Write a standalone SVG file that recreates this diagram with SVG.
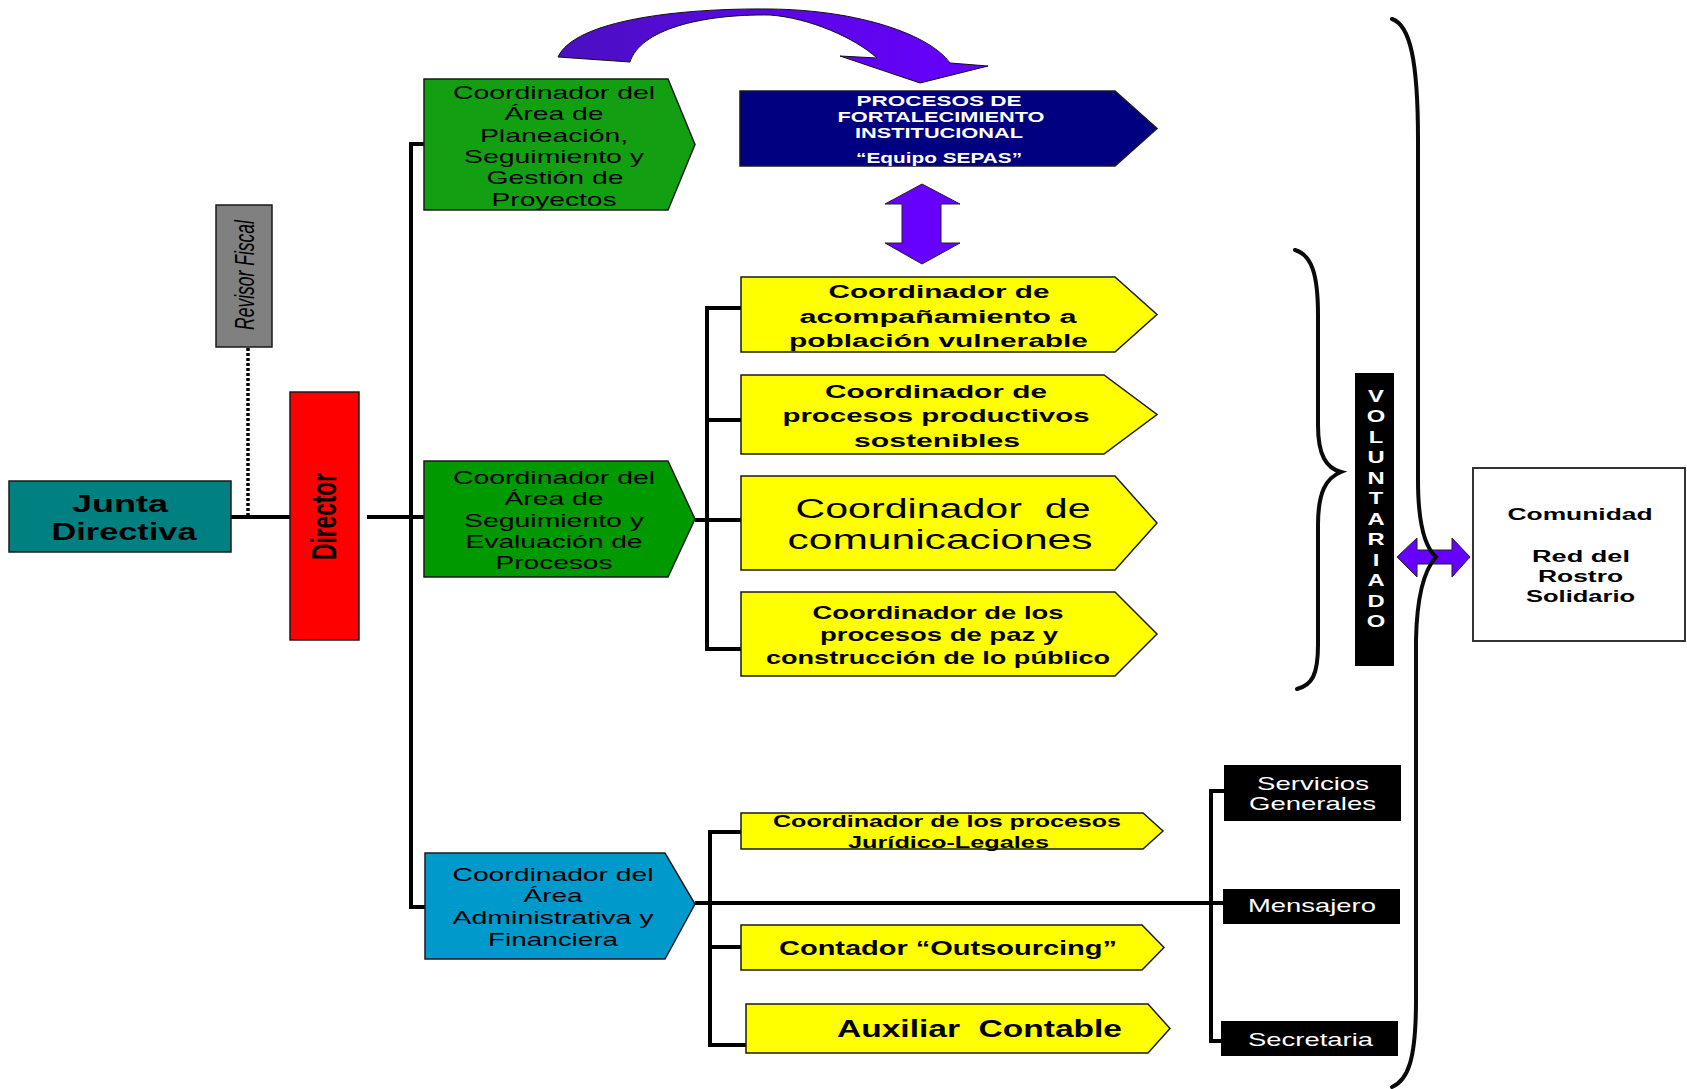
<svg xmlns="http://www.w3.org/2000/svg" width="1687" height="1089" viewBox="0 0 1687 1089">
<defs>
<style>
.t{font-family:"Liberation Sans",Arial,sans-serif;text-anchor:middle;fill:#000}
.b{font-weight:bold}
.w{fill:#fff}
.box{stroke:#1a1a1a;stroke-width:1.5}
.ln{stroke:#000;stroke-width:4;fill:none}
.brace{stroke:#0a0a0a;stroke-width:4;fill:none;stroke-linecap:round}
.pur{fill:#6600ff;stroke:#222;stroke-width:1}
</style>
<linearGradient id="gArc" x1="0" y1="0" x2="1" y2="0">
<stop offset="0" stop-color="#4a10c0"/>
<stop offset="0.45" stop-color="#5a08e0"/>
<stop offset="1" stop-color="#6600ff"/>
</linearGradient>
</defs>
<rect width="1687" height="1089" fill="#fff"/>

<g id="connectors">
<path class="ln" d="M231,517 H290"/>
<path d="M248,348 V515" stroke="#000" stroke-width="3.5" stroke-dasharray="3,2" fill="none"/>
<path class="ln" d="M367,517 H424"/>
<path class="ln" d="M424,144 H411 V907 H425"/>
<path class="ln" d="M741,308 H707 V649 H741"/>
<path class="ln" d="M707,420 H741"/>
<path class="ln" d="M695,520 H741"/>
<path class="ln" d="M741,832 H710 V1045 H746"/>
<path class="ln" d="M710,947 H741"/>
<path class="ln" d="M695,903 H1223"/>
<path class="ln" d="M1224,791 H1211 V1041 H1221"/>
</g>

<g id="arc-arrow">
<path d="M558,57 C575,20 680,8 770,9 C860,10 930,35 950,63 L988,66 L920,83 L840,56 L877,58 C855,38 810,18 770,15 C700,14 640,30 630,62 Z" fill="url(#gArc)" stroke="#111" stroke-width="1"/>
</g>

<g id="junta">
<rect class="box" x="9" y="481" width="222" height="71" fill="#008080"/>
<text class="t b" transform="translate(120,0) scale(1.5,1)" y="512" font-size="23.5" textLength="64" lengthAdjust="spacingAndGlyphs">Junta</text>
<text class="t b" transform="translate(124,0) scale(1.5,1)" y="540" font-size="23.5" textLength="96.7" lengthAdjust="spacingAndGlyphs">Directiva</text>
</g>

<g id="revisor">
<rect class="box" x="216" y="205" width="56" height="142" fill="#808080"/>
<text class="t" font-style="italic" transform="translate(244,275) scale(1.6,1) rotate(-90)" y="6.3" font-size="17.5" textLength="110" lengthAdjust="spacingAndGlyphs">Revisor Fiscal</text>
</g>

<g id="director">
<rect class="box" x="290" y="392" width="69" height="248" fill="#ff0000"/>
<text class="t b" transform="translate(323,516.5) scale(1.55,1) rotate(-90)" y="8.2" font-size="23" textLength="87" lengthAdjust="spacingAndGlyphs">Director</text>
</g>

<g id="coord-planeacion">
<path class="box" d="M424,79 H668 L695,144.5 L668,210 H424 Z" fill="#12a012"/>
<g class="t" font-size="18">
<text transform="translate(554,0) scale(1.5,1)" y="99" textLength="134.7" lengthAdjust="spacingAndGlyphs">Coordinador del</text>
<text transform="translate(554,0) scale(1.5,1)" y="120.5" textLength="66" lengthAdjust="spacingAndGlyphs">Área de</text>
<text transform="translate(554,0) scale(1.5,1)" y="142" textLength="98.7" lengthAdjust="spacingAndGlyphs">Planeación,</text>
<text transform="translate(554,0) scale(1.5,1)" y="163" textLength="120" lengthAdjust="spacingAndGlyphs">Seguimiento y</text>
<text transform="translate(555,0) scale(1.5,1)" y="184.5" textLength="91.3" lengthAdjust="spacingAndGlyphs">Gestión de</text>
<text transform="translate(554,0) scale(1.5,1)" y="206" textLength="83.3" lengthAdjust="spacingAndGlyphs">Proyectos</text>
</g>
</g>

<g id="coord-seguimiento">
<path class="box" d="M424,461 H668 L695,519 L668,577 H424 Z" fill="#009a00"/>
<g class="t" font-size="18">
<text transform="translate(554,0) scale(1.5,1)" y="484" textLength="134.7" lengthAdjust="spacingAndGlyphs">Coordinador del</text>
<text transform="translate(554,0) scale(1.5,1)" y="505.5" textLength="66" lengthAdjust="spacingAndGlyphs">Área de</text>
<text transform="translate(554,0) scale(1.5,1)" y="527" textLength="120" lengthAdjust="spacingAndGlyphs">Seguimiento y</text>
<text transform="translate(554,0) scale(1.5,1)" y="548" textLength="118" lengthAdjust="spacingAndGlyphs">Evaluación de</text>
<text transform="translate(554,0) scale(1.5,1)" y="569" textLength="78" lengthAdjust="spacingAndGlyphs">Procesos</text>
</g>
</g>

<g id="coord-administrativa">
<path class="box" d="M425,853 H665 L695,904 L665,959 H425 Z" fill="#0099cc"/>
<g class="t" font-size="18">
<text transform="translate(553,0) scale(1.5,1)" y="881" textLength="134" lengthAdjust="spacingAndGlyphs">Coordinador del</text>
<text transform="translate(553,0) scale(1.5,1)" y="902.5" textLength="39.3" lengthAdjust="spacingAndGlyphs">Área</text>
<text transform="translate(553,0) scale(1.5,1)" y="924" textLength="134" lengthAdjust="spacingAndGlyphs">Administrativa y</text>
<text transform="translate(553,0) scale(1.5,1)" y="946" textLength="86.7" lengthAdjust="spacingAndGlyphs">Financiera</text>
</g>
</g>

<g id="procesos-fortalecimiento">
<path class="box" d="M740,91 H1115 L1157,128.5 L1115,166 H740 Z" fill="#000080"/>
<g class="t b" font-size="14.5">
<text class="w" transform="translate(939,0) scale(1.5,1)" y="106" textLength="110" lengthAdjust="spacingAndGlyphs">PROCESOS DE</text>
<text class="w" transform="translate(941,0) scale(1.5,1)" y="122" textLength="138" lengthAdjust="spacingAndGlyphs">FORTALECIMIENTO</text>
<text class="w" transform="translate(939,0) scale(1.5,1)" y="138" textLength="112" lengthAdjust="spacingAndGlyphs">INSTITUCIONAL</text>
<text class="w" transform="translate(939,0) scale(1.5,1)" y="163" textLength="110.7" lengthAdjust="spacingAndGlyphs">“Equipo SEPAS”</text>
</g>
</g>

<g id="double-arrow-v">
<polygon class="pur" points="922,184 960,204 941,204 941,243 960,243 922,264 885,243 902,243 902,204 885,204"/>
</g>

<g id="coord-acompanamiento">
<path class="box" d="M741,277 H1115 L1157,314.5 L1115,352 H741 Z" fill="#ffff00"/>
<g class="t b" font-size="18.5">
<text transform="translate(939,0) scale(1.5,1)" y="298" textLength="147.3" lengthAdjust="spacingAndGlyphs">Coordinador de</text>
<text transform="translate(938,0) scale(1.5,1)" y="323" textLength="184.7" lengthAdjust="spacingAndGlyphs">acompañamiento a</text>
<text transform="translate(938.5,0) scale(1.5,1)" y="347" textLength="199.3" lengthAdjust="spacingAndGlyphs">población vulnerable</text>
</g>
</g>

<g id="coord-productivos">
<path class="box" d="M741,375 H1104 L1157,414.5 L1104,454 H741 Z" fill="#ffff00"/>
<g class="t b" font-size="18.5">
<text transform="translate(936,0) scale(1.5,1)" y="398" textLength="148" lengthAdjust="spacingAndGlyphs">Coordinador de</text>
<text transform="translate(936,0) scale(1.5,1)" y="422" textLength="204.7" lengthAdjust="spacingAndGlyphs">procesos productivos</text>
<text transform="translate(937,0) scale(1.5,1)" y="447" textLength="110.7" lengthAdjust="spacingAndGlyphs">sostenibles</text>
</g>
</g>

<g id="coord-comunicaciones">
<path class="box" d="M741,476 H1115 L1157,523 L1115,570 H741 Z" fill="#ffff00"/>
<g class="t" font-size="27">
<text transform="translate(943,0) scale(1.5,1)" y="518" textLength="196.7" lengthAdjust="spacingAndGlyphs" xml:space="preserve">Coordinador  de</text>
<text transform="translate(940,0) scale(1.5,1)" y="549" textLength="203.3" lengthAdjust="spacingAndGlyphs">comunicaciones</text>
</g>
</g>

<g id="coord-paz">
<path class="box" d="M741,592 H1115 L1157,634 L1115,676 H741 Z" fill="#ffff00"/>
<g class="t b" font-size="18">
<text transform="translate(938,0) scale(1.5,1)" y="619" textLength="167.3" lengthAdjust="spacingAndGlyphs">Coordinador de los</text>
<text transform="translate(939,0) scale(1.5,1)" y="641" textLength="158.7" lengthAdjust="spacingAndGlyphs">procesos de paz y</text>
<text transform="translate(938,0) scale(1.5,1)" y="664" textLength="229.3" lengthAdjust="spacingAndGlyphs">construcción de lo público</text>
</g>
</g>

<g id="coord-juridico">
<path class="box" d="M741,813 H1143 L1163,831 L1143,849 H741 Z" fill="#ffff00"/>
<g class="t b" font-size="17">
<text transform="translate(947,0) scale(1.5,1)" y="827" textLength="232" lengthAdjust="spacingAndGlyphs">Coordinador de los procesos</text>
<text transform="translate(948.5,0) scale(1.5,1)" y="848" textLength="134" lengthAdjust="spacingAndGlyphs">Jurídico-Legales</text>
</g>
</g>

<g id="contador">
<path class="box" d="M741,925 H1142 L1164,947.5 L1142,970 H741 Z" fill="#ffff00"/>
<text class="t b" transform="translate(948,0) scale(1.5,1)" y="955" font-size="21" textLength="225.3" lengthAdjust="spacingAndGlyphs">Contador “Outsourcing”</text>
</g>

<g id="auxiliar">
<path class="box" d="M746,1004 H1148 L1170,1028.5 L1148,1053 H746 Z" fill="#ffff00"/>
<text class="t b" transform="translate(979.5,0) scale(1.4,1)" y="1037" font-size="24" textLength="203.6" lengthAdjust="spacingAndGlyphs" xml:space="preserve">Auxiliar  Contable</text>
</g>

<g id="servicios">
<rect x="1224" y="765" width="177" height="56" fill="#000"/>
<text class="t w" transform="translate(1313,0) scale(1.4,1)" y="790" font-size="18" textLength="80" lengthAdjust="spacingAndGlyphs">Servicios</text>
<text class="t w" transform="translate(1312.5,0) scale(1.4,1)" y="810" font-size="18" textLength="90.7" lengthAdjust="spacingAndGlyphs">Generales</text>
</g>

<g id="mensajero">
<rect x="1223" y="889" width="177" height="35" fill="#000"/>
<text class="t w" transform="translate(1312,0) scale(1.4,1)" y="912" font-size="18" textLength="91.4" lengthAdjust="spacingAndGlyphs">Mensajero</text>
</g>

<g id="secretaria">
<rect x="1221" y="1021" width="177" height="35" fill="#000"/>
<text class="t w" transform="translate(1310.5,0) scale(1.4,1)" y="1046" font-size="18" textLength="89.3" lengthAdjust="spacingAndGlyphs">Secretaria</text>
</g>

<g id="voluntariado">
<rect x="1355" y="373" width="39" height="293" fill="#000"/>
<g transform="translate(1376,0) scale(1.4,1)" class="t b" font-size="17">
<text class="w" x="0" y="402">V</text>
<text class="w" x="0" y="422.5">O</text>
<text class="w" x="0" y="443">L</text>
<text class="w" x="0" y="463.5">U</text>
<text class="w" x="0" y="484">N</text>
<text class="w" x="0" y="504">T</text>
<text class="w" x="0" y="525">A</text>
<text class="w" x="0" y="545.5">R</text>
<text class="w" x="0" y="566">I</text>
<text class="w" x="0" y="586">A</text>
<text class="w" x="0" y="607">D</text>
<text class="w" x="0" y="627">O</text>
</g>
</g>

<g id="double-arrow-h">
<polygon class="pur" points="1397,557 1417,538 1417,550 1452,550 1452,538 1470,557 1452,577 1452,564 1417,564 1417,577"/>
</g>

<g id="braces">
<path class="brace" d="M1295,250 C1312,255 1318,275 1318,315 L1318,425 C1318,455 1326,468 1341,472 C1326,478 1318,492 1318,525 L1318,645 C1318,675 1312,685 1297,689"/>
<path class="brace" d="M1392,19 C1410,25 1418,60 1418,140 L1418,480 C1418,525 1426,548 1436,557 C1426,568 1417,590 1416,640 L1416,1000 C1416,1060 1408,1080 1392,1087"/>
</g>

<g id="comunidad">
<rect x="1473" y="468" width="212" height="173" fill="#fff" stroke="#333" stroke-width="2"/>
<g class="t b" font-size="17">
<text transform="translate(1580,0) scale(1.5,1)" y="520" textLength="96.7" lengthAdjust="spacingAndGlyphs">Comunidad</text>
<text transform="translate(1581,0) scale(1.5,1)" y="562" textLength="65.3" lengthAdjust="spacingAndGlyphs">Red del</text>
<text transform="translate(1580.5,0) scale(1.5,1)" y="582" textLength="56.7" lengthAdjust="spacingAndGlyphs">Rostro</text>
<text transform="translate(1580.5,0) scale(1.5,1)" y="602" textLength="72.7" lengthAdjust="spacingAndGlyphs">Solidario</text>
</g>
</g>
</svg>
